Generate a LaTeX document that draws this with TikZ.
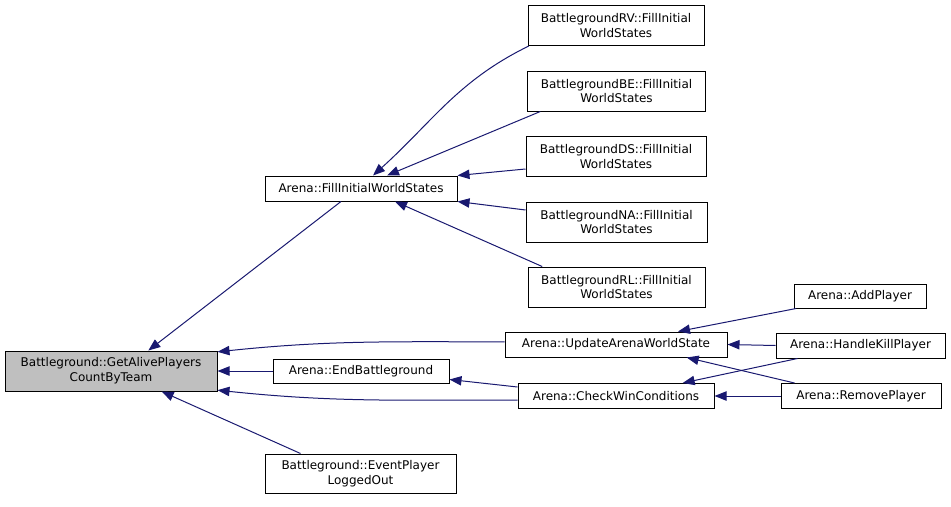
\documentclass[tikz,border=0pt]{standalone}
\usepackage{fontspec}
\setmainfont{DejaVu Sans}
\usepackage{xcolor}
\usetikzlibrary{arrows.meta, positioning}
\definecolor{callblue}{RGB}{25,25,112}
\tikzset{
  func/.style = {draw, line width=0.75pt, align=center, inner sep=0pt,
                 font=\fontsize{9}{11.2}\selectfont},
  call/.style = {-{Triangle[length=9pt,width=7pt]}, draw=callblue,
                 line width=0.75pt}
}

\begin{document}
\begin{tikzpicture}[x=0.75pt, y=-0.75pt]
				\useasboundingbox (0,0) rectangle (951,507);
				\node[func, fill=gray!50, minimum width=159pt, minimum height=30pt] (ga) at (111,371) {Battleground::GetAlivePlayers\\CountByTeam};
				\node[func, minimum width=144pt, minimum height=18.75pt] (fill) at (361,188.5) {Arena::FillInitialWorldStates};
				\node[func, minimum width=132pt, minimum height=30pt] (rv) at (616,25.5) {BattlegroundRV::FillInitial\\WorldStates};
				\node[func, minimum width=133.5pt, minimum height=30pt] (be) at (616.5,91) {BattlegroundBE::FillInitial\\WorldStates};
				\node[func, minimum width=135pt, minimum height=30pt] (ds) at (616,156.5) {BattlegroundDS::FillInitial\\WorldStates};
				\node[func, minimum width=135.75pt, minimum height=30pt] (na) at (616.5,222) {BattlegroundNA::FillInitial\\WorldStates};
				\node[func, minimum width=132.75pt, minimum height=30pt] (rl) at (616.5,287) {BattlegroundRL::FillInitial\\WorldStates};
				\node[func, minimum width=166.5pt, minimum height=18.75pt] (upd) at (616,344.5) {Arena::UpdateArenaWorldState};
				\node[func, minimum width=132pt, minimum height=18pt] (endbg) at (361,371) {Arena::EndBattleground};
				\node[func, minimum width=147pt, minimum height=18.75pt] (chk) at (616,396) {Arena::CheckWinConditions};
				\node[func, minimum width=143.25pt, minimum height=29.25pt] (elo) at (360.5,473.5) {Battleground::EventPlayer\\LoggedOut};
				\node[func, minimum width=99pt, minimum height=18pt] (add) at (860,296) {Arena::AddPlayer};
				\node[func, minimum width=126.75pt, minimum height=18.75pt] (hkp) at (860.5,345.5) {Arena::HandleKillPlayer};
				\node[func, minimum width=120pt, minimum height=18.75pt] (rmp) at (861,396) {Arena::RemovePlayer};
				\draw[call] ([xshift=-15pt]fill.south) -- ([xshift=28pt]ga.north);
				\draw[call] ([xshift=1pt]rv.south west) to[out=206, in=42] ([xshift=9pt]fill.north);
				\draw[call] ([xshift=10pt]be.south west) -- ([xshift=19.5pt]fill.north);
				\draw[call] ([yshift=6pt]ds.south west) -- (fill.north east);
				\draw[call] ([yshift=9pt]na.west) -- (fill.south east);
				\draw[call] ([xshift=11pt]rl.north west) -- ([xshift=25.5pt]fill.south);
				\draw[call] ([yshift=2pt]upd.west) to[out=180, in=6] ([yshift=-1pt]ga.north east);
				\draw[call] (endbg.west) -- (ga.east);
				\draw[call] ([yshift=-3pt]chk.west) to[out=180, in=-6] ([yshift=1pt]ga.south east);
				\draw[call] ([yshift=-3pt]chk.north west) -- ([yshift=3pt]endbg.south east);
				\draw[call] ([xshift=-45pt]elo.north) -- ([xshift=38pt]ga.south);
				\draw[call] ([xshift=2pt]add.south west) -- ([xshift=46.5pt]upd.north);
				\draw[call] (hkp.west) -- (upd.east);
				\draw[call] ([xshift=10.5pt]rmp.north west) -- ([xshift=53pt]upd.south);
				\draw[call] ([xshift=16.5pt]hkp.south west) -- ([xshift=50pt]chk.north);
				\draw[call] (rmp.west) -- (chk.east);
			\end{tikzpicture}
\end{document}
